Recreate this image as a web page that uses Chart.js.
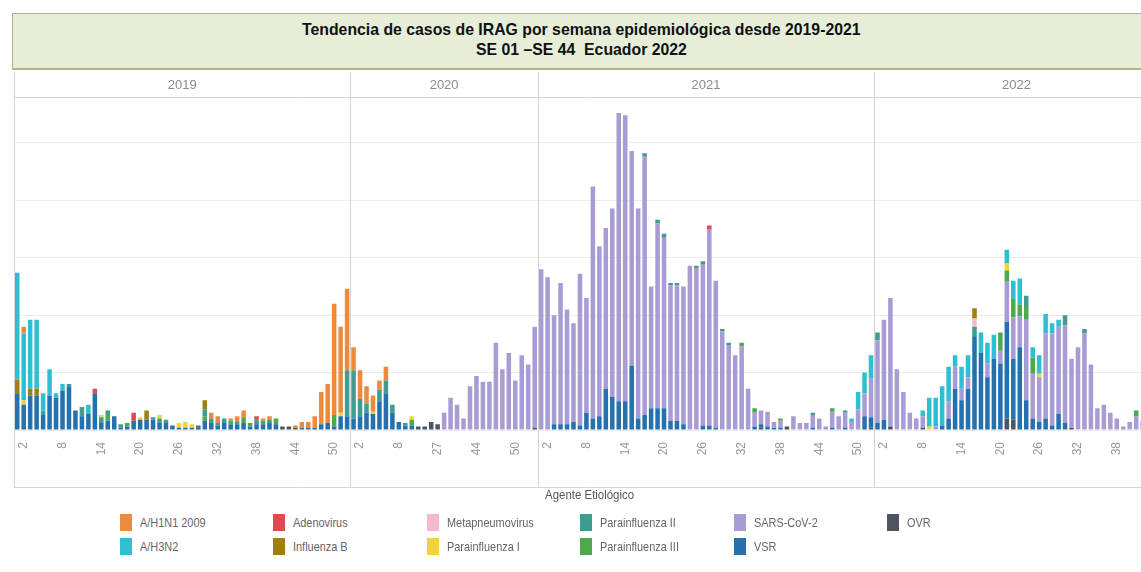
<!DOCTYPE html>
<html lang="es">
<head>
<meta charset="utf-8">
<title>Tendencia de casos de IRAG</title>
<script src="https://cdn.jsdelivr.net/npm/chart.js@4.4.1/dist/chart.umd.min.js"></script>
<style>
  html, body { margin: 0; padding: 0; background: #fff; overflow: hidden; width: 1141px; height: 572px; }
  body { position: relative; font-family: "Liberation Sans Narrow", "Liberation Sans", Arial, sans-serif; }
  #irag { position: absolute; left: 0; top: 0; }
  .titulo { position: absolute; left: 12px; top: 13px; width: 1138px; height: 57px; box-sizing: border-box;
    background: #e7eed8; border: 1px solid #a9b690; border-bottom-width: 2px;
    font-weight: bold; font-size: 17px; color: #111; text-align: center; line-height: 20px; padding-top: 6px; }
  .titulo span { display: inline-block; transform: scaleX(0.93); }
  .leyenda-titulo { position: absolute; left: 490px; top: 487px; width: 200px; text-align: center; font-size: 13px; color: #555; }
  .leyenda-titulo span { display: inline-block; transform: scaleX(0.88); }
  .leyenda { position: absolute; left: 120px; top: 510px; display: grid; grid-template-columns: repeat(6, 153.4px);
    grid-template-rows: repeat(2, 24px); grid-auto-flow: column; }
  .item { display: flex; align-items: center; font-size: 13px; color: #666; white-space: nowrap; }
  .item i { display: inline-block; width: 12px; height: 17px; margin-right: 8px; }
  .item span { display: inline-block; transform: scaleX(0.84); transform-origin: left center; }
</style>
</head>
<body>
<canvas id="irag" width="1174" height="488"></canvas>
<div class="titulo"><span>Tendencia de casos de IRAG por semana epidemiológica desde 2019-2021</span><br><span>SE 01 –SE 44&nbsp; Ecuador 2022</span></div>
<div class="leyenda-titulo"><span>Agente Etiológico</span></div>
<div class="leyenda" id="leyenda"></div>
<script>
// Años (paneles) y semanas epidemiológicas de cada panel
var anios = ["2019", "2020", "2021", "2022"];
var semanas2019 = [1,2,3,4,5,6,7,8,9,10,11,12,13,14,15,16,17,18,19,20,21,22,23,24,25,26,27,28,29,30,31,32,33,34,35,36,37,38,39,40,41,42,43,44,45,46,47,48,49,50,51,52];
var semanas2020 = [1,2,3,4,5,6,7,8,9,10,11,12,13,27,39,40,41,42,43,44,45,46,47,48,49,50,51,52,53];
var semanas2021 = [1,2,3,4,5,6,7,8,9,10,11,12,13,14,15,16,17,18,19,20,21,22,23,24,25,26,27,28,29,30,31,32,33,34,35,36,37,38,39,40,41,42,43,44,45,46,47,48,49,50,51,52];
var semanas2022 = [1,2,3,4,5,6,7,8,9,10,11,12,13,14,15,16,17,18,19,20,21,22,23,24,25,26,27,28,29,30,31,32,33,34,35,36,37,38,39,40,41,42,43,44];
var semanasPorAnio = [semanas2019, semanas2020, semanas2021, semanas2022];

// Casos por agente (2019 | 2020 | 2021 | 2022)
var ovr = [
  0,0,0,0,0,0,0,0,0,0, 0,0,0,0,0,0,0,0,0,0, 0,0,0,0,0,0,0,0,2,0, 0,0,0,0,0,0,0,0,0,0, 0,3,3,2,0,0,0,0,0,0, 0,0,
  0,0,0,0,0,0,0,0,0,0, 3,3,7,5,0,0,0,0,0,0, 0,0,0,0,0,0,0,0,2,
  0,0,0,0,0,0,0,0,0,0, 0,0,0,0,0,0,0,0,0,0, 0,0,0,0,0,0,0,0,0,0, 0,0,0,0,2,0,0,0,3,0, 0,0,0,0,0,0,0,0,0,0, 0,2,
  0,0,3,0,0,0,0,2,0,0, 0,0,0,0,0,0,0,0,0,0, 10,9,0,0,0,0,0,0,0,0, 2,0,0,0,0,0,0,0,0,0, 0,0,0,0
];
var vsr = [
  32,22,30,30,13,30,28,34,38,17, 12,14,32,6,8,12,2,3,8,9, 9,9,6,6,4,2,2,2,2,8, 6,4,6,5,5,6,3,5,5,6, 5,0,0,0,2,2,2,5,6,3, 12,12,
  10,12,15,14,25,32,15,7,4,4, 0,0,0,0,0,0,0,0,0,0, 0,0,0,0,0,0,0,0,0,
  0,0,5,5,5,7,4,15,10,12, 36,29,25,25,56,10,13,19,19,19, 8,8,5,0,0,4,4,2,0,0, 0,0,0,3,3,3,2,2,0,0, 0,0,2,0,0,2,0,2,0,0, 12,9,
  6,9,0,0,0,0,0,0,0,0, 4,10,36,26,36,81,67,46,62,58, 84,53,72,26,10,7,10,4,14,6, 0,0,0,0,0,0,0,0,0,0, 0,0,0,0
];
var sarsCov2 = [
  0,0,0,0,0,0,0,0,0,0, 0,0,0,0,0,0,0,0,0,0, 0,0,0,0,0,0,0,0,0,0, 0,0,0,0,0,0,0,0,0,0, 0,0,0,0,0,0,0,0,0,0, 0,0,
  0,0,0,0,0,0,0,0,0,0, 0,0,0,0,15,28,22,10,38,47, 42,42,76,53,67,43,65,57,88,
  140,133,95,123,100,86,132,100,202,148, 140,164,251,249,187,183,225,106,161,149, 118,118,120,143,141,140,171,128,86,74, 65,73,36,12,12,13,5,6,0,12, 6,6,11,10,3,14,12,13,7,18, 20,34,
  72,87,112,53,33,15,10,10,0,3, 0,15,19,10,10,0,0,12,0,11, 35,36,27,70,39,39,74,80,76,85, 60,72,84,57,19,22,15,10,3,7, 12,8,6,5
];
var parainfluenza3 = [
  0,0,0,0,0,0,0,0,0,0, 0,0,0,0,5,0,0,3,0,0, 0,0,0,0,0,0,0,0,0,4, 0,0,0,3,0,5,3,0,3,0, 5,0,0,0,0,0,0,0,0,10, 0,0,
  0,0,0,0,0,0,0,0,0,5, 0,0,0,0,0,0,0,0,0,0, 0,0,0,0,0,0,0,0,0,
  0,0,0,0,0,0,0,0,0,0, 0,0,0,0,0,0,0,0,0,0, 0,0,0,0,0,0,0,0,0,0, 0,3,0,4,0,0,0,2,0,0, 0,0,0,0,0,3,0,0,0,0, 0,0,
  0,0,0,0,0,0,0,0,0,0, 0,0,0,0,0,0,0,0,0,16, 10,16,10,12,14,0,0,0,0,0, 0,0,0,0,0,0,0,0,0,0, 5,0,0,0
];
var parainfluenza2 = [
  0,0,0,0,4,0,0,0,2,0, 8,0,0,5,4,0,3,0,0,0, 0,2,4,3,0,0,0,0,0,6, 4,2,4,0,2,0,0,4,0,3, 0,0,0,0,0,0,0,0,0,0, 0,40,
  42,15,8,0,10,11,7,0,2,0, 0,0,0,0,0,0,0,0,0,0, 0,0,0,0,0,0,0,0,0,
  0,0,0,0,0,0,0,0,0,0, 0,0,0,0,0,0,3,0,3,3, 2,2,0,0,2,3,0,0,2,2, 0,0,0,0,0,0,0,0,0,0, 0,0,2,0,0,0,0,2,0,0, 0,0,
  7,0,0,0,0,0,0,0,0,0, 0,0,0,0,0,9,0,0,0,0, 0,0,0,9,0,0,0,0,0,9, 0,0,4,0,0,0,0,0,0,0, 0,0,0,0
];
var parainfluenza1 = [
  0,4,0,0,0,0,0,0,0,0, 0,0,0,2,0,0,0,0,0,2, 0,0,3,0,0,4,5,3,0,0, 0,0,0,0,0,0,0,0,0,0, 0,0,0,0,0,0,0,0,0,0, 3,0,
  0,0,0,2,0,0,0,0,0,3, 0,0,0,0,0,0,0,0,0,0, 0,0,0,0,0,0,0,0,0,
  0,0,0,0,0,0,0,0,0,0, 0,0,0,0,0,0,0,0,0,0, 0,0,0,0,0,0,0,0,0,0, 0,0,0,0,0,0,0,0,0,0, 0,0,0,0,0,0,0,0,0,0, 0,0,
  0,0,0,0,0,0,0,0,3,0, 0,0,0,0,0,0,0,0,0,0, 6,0,0,0,0,3,0,0,0,0, 0,0,0,0,0,0,0,0,0,0, 0,0,0,0
];
var metapneumovirus = [
  0,0,0,0,0,0,0,0,0,0, 0,0,0,0,0,0,0,0,0,0, 0,0,0,0,0,0,0,0,0,0, 0,0,0,0,0,0,0,0,0,0, 0,0,0,0,0,0,0,0,0,0, 0,0,
  0,0,0,0,0,0,0,0,0,0, 0,0,0,0,0,0,0,0,0,0, 0,0,0,0,0,0,0,0,0,
  0,0,0,0,0,0,0,0,0,0, 0,0,0,0,0,0,0,0,0,0, 0,0,0,0,0,0,0,0,0,0, 0,0,0,0,0,0,0,0,0,0, 0,0,0,0,0,0,0,0,0,0, 0,0,
  0,0,0,0,0,0,0,0,0,0, 0,0,0,0,0,7,0,0,0,0, 0,0,0,0,0,0,0,0,0,0, 0,0,0,0,0,0,0,0,0,0, 0,0,0,0
];
var influenzaB = [
  12,0,6,6,0,0,0,0,0,0, 0,0,0,0,0,0,0,0,0,0, 8,0,0,0,0,0,0,0,0,8, 0,0,0,0,0,0,0,0,0,0, 0,0,0,0,0,0,0,0,0,0, 0,0,
  0,0,0,0,0,0,0,0,0,0, 0,0,0,0,0,0,0,0,0,0, 0,0,0,0,0,0,0,0,0,
  0,0,0,0,0,0,0,0,0,0, 0,0,0,0,0,0,0,0,0,0, 0,0,0,0,0,0,0,0,0,0, 0,0,0,0,0,0,0,0,0,0, 0,0,0,0,0,0,0,0,0,0, 0,0,
  0,0,0,0,0,0,0,0,0,0, 0,0,0,0,0,9,0,0,0,0, 0,0,0,0,0,0,0,0,0,0, 0,0,0,0,0,0,0,0,0,0, 0,0,0,0
];
var adenovirus = [
  0,0,0,0,0,0,0,0,0,0, 0,0,4,0,0,0,0,0,7,0, 0,0,0,0,0,0,0,0,0,0, 0,0,0,0,0,0,0,3,0,0, 0,0,0,0,0,0,0,0,0,0, 0,0,
  0,0,0,0,0,0,0,0,0,0, 0,0,0,0,0,0,0,0,0,0, 0,0,0,0,0,0,0,0,0,
  0,0,0,0,0,0,0,0,0,0, 0,0,0,0,0,0,0,0,0,0, 0,0,0,0,0,0,3,0,0,0, 0,0,0,0,0,0,0,0,0,0, 0,0,0,0,0,0,0,0,0,0, 0,0,
  0,0,0,0,0,0,0,0,0,0, 0,0,0,0,0,0,0,0,0,0, 0,0,0,0,0,0,0,0,0,0, 0,0,0,0,0,0,0,0,0,0, 0,0,0,0
];
var h3n2 = [
  93,58,60,60,15,23,4,6,0,0, 0,8,0,0,0,0,0,0,0,0, 0,0,0,0,0,0,0,0,0,0, 0,0,0,0,0,0,0,0,0,0, 0,0,0,0,0,0,0,0,0,0, 0,0,
  0,0,0,0,0,0,0,0,0,0, 0,0,0,0,0,0,0,0,0,0, 0,0,0,0,0,0,0,0,0,
  0,0,0,0,0,0,0,0,0,0, 0,0,0,0,0,0,0,0,0,0, 0,0,0,0,0,0,0,0,0,0, 0,0,0,0,0,0,0,0,0,0, 0,0,0,0,0,0,0,0,3,15, 18,20,
  0,0,0,0,0,0,0,5,25,25, 34,30,10,19,19,0,18,18,21,0, 12,16,23,0,9,16,17,9,6,0, 0,0,0,0,0,0,0,0,0,0, 0,0,0,0
];
var h1n1 = [
  0,6,0,0,0,0,0,0,0,0, 0,0,0,0,0,0,0,0,0,0, 0,0,0,0,0,0,0,0,0,0, 5,6,0,2,5,6,0,0,2,3, 0,0,0,2,5,5,10,28,34,97, 75,71,
  20,25,15,14,8,12,0,0,0,0, 0,0,0,0,0,0,0,0,0,0, 0,0,0,0,0,0,0,0,0,
  0,0,0,0,0,0,0,0,0,0, 0,0,0,0,0,0,0,0,0,0, 0,0,0,0,0,0,0,0,0,0, 0,0,0,0,0,0,0,0,0,0, 0,0,0,0,0,0,0,0,0,0, 0,0,
  0,0,0,0,0,0,0,0,0,0, 0,0,0,0,0,0,0,0,0,0, 0,0,0,0,0,0,0,0,0,0, 0,0,0,0,0,0,0,0,0,0, 0,0,0,0
];

// Orden de apilado: de abajo hacia arriba (la leyenda va al revés)
var nombres = ["OVR", "VSR", "SARS-CoV-2", "Parainfluenza III", "Parainfluenza II", "Parainfluenza I",
  "Metapneumovirus", "Influenza B", "Adenovirus", "A/H3N2", "A/H1N1 2009"];
var colores = ["#4d5562", "#2471ae", "#a99bd4", "#4da84e", "#3e9c91", "#f2d23c",
  "#f4bacb", "#a07e10", "#dd4a4f", "#2fbfd3", "#ee8a3c"];
var series = [ovr, vsr, sarsCov2, parainfluenza3, parainfluenza2, parainfluenza1,
  metapneumovirus, influenzaB, adenovirus, h3n2, h1n1];

var etiquetas = [];
var mostrarEtiqueta = [];
var inicioPanel = [];
semanasPorAnio.forEach(function (sem) {
  inicioPanel.push(etiquetas.length);
  sem.forEach(function (s, j) {
    etiquetas.push(String(s));
    mostrarEtiqueta.push(j % 6 === 1); // una etiqueta cada 6 semanas, como en Tableau
  });
});

// Paneles por año: separadores, cabecera y bordes
var paneles = {
  id: "paneles",
  afterDraw: function (chart) {
    var ctx = chart.ctx, area = chart.chartArea, x = chart.scales.x;
    var bordes = [area.left];
    for (var k = 1; k < inicioPanel.length; k++) {
      var i = inicioPanel[k];
      bordes.push((x.getPixelForValue(i - 1) + x.getPixelForValue(i)) / 2);
    }
    bordes.push(area.right);
    ctx.save();
    ctx.strokeStyle = "#d5d5d5";
    ctx.lineWidth = 1;
    ctx.beginPath();
    for (var b = 0; b < bordes.length - 1; b++) {
      var bx = Math.round(bordes[b]) + 0.5;
      ctx.moveTo(bx, 72);
      ctx.lineTo(bx, 487);
    }
    ctx.moveTo(area.left, Math.round(area.top) + 0.5);
    ctx.lineTo(area.right, Math.round(area.top) + 0.5);
    ctx.moveTo(area.left, 487.5);
    ctx.lineTo(area.right, 487.5);
    ctx.stroke();
    ctx.fillStyle = "#8a8a8a";
    ctx.font = '13px "Liberation Sans Narrow", "Liberation Sans", sans-serif';
    ctx.textAlign = "center";
    ctx.textBaseline = "middle";
    anios.forEach(function (a, k) {
      ctx.fillText(a, (bordes[k] + bordes[k + 1]) / 2, 85);
    });
    ctx.restore();
  }
};

new Chart("irag", {
  type: "bar",
  data: {
    labels: etiquetas,
    datasets: series.map(function (d, k) {
      return {
        label: nombres[k],
        data: d,
        backgroundColor: colores[k],
        barPercentage: 0.7,
        categoryPercentage: 1.0
      };
    })
  },
  options: {
    responsive: false,
    animation: false,
    devicePixelRatio: 1,
    layout: { padding: { left: 14, top: 97, right: 0, bottom: 0 } },
    plugins: {
      legend: false,
      tooltip: { enabled: false }
    },
    scales: {
      x: {
        stacked: true,
        grid: { display: false },
        border: { display: false },
        afterFit: function (s) { s.height = 58; },
        ticks: {
          autoSkip: false,
          minRotation: 90,
          maxRotation: 90,
          padding: 4,
          color: "#999",
          font: { family: '"Liberation Sans Narrow", "Liberation Sans", sans-serif', size: 12 },
          callback: function (v, i) { return mostrarEtiqueta[i] ? etiquetas[i] : ""; }
        }
      },
      y: {
        stacked: true,
        min: 0,
        max: 290,
        afterFit: function (s) { s.width = 0; },
        grid: { color: "#ececec", drawTicks: false },
        border: { display: false },
        ticks: { display: false, stepSize: 50 }
      }
    }
  },
  plugins: [paneles]
});

// Leyenda HTML con el orden de Tableau (inverso al apilado)
var leyenda = document.getElementById("leyenda");
for (var k = nombres.length - 1; k >= 0; k--) {
  var item = document.createElement("div");
  item.className = "item";
  item.innerHTML = '<i style="background:' + colores[k] + '"></i><span>' + nombres[k] + '</span>';
  leyenda.appendChild(item);
}
</script>
</body>
</html>
